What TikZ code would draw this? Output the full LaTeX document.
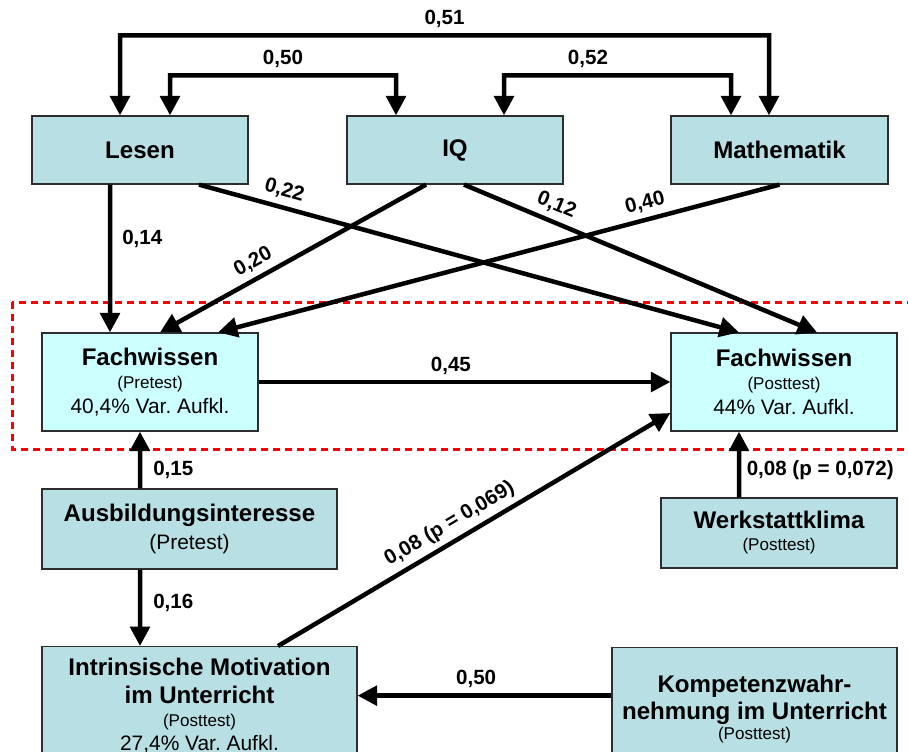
\documentclass[tikz,border=0pt]{standalone}
\usepackage{fontspec}
\setmainfont{Liberation Sans}
\usepackage{tikz}
\usetikzlibrary{arrows.meta}
\frenchspacing

\definecolor{boxteal}{RGB}{184,223,227}
\definecolor{boxcyan}{RGB}{204,255,255}
\definecolor{boxline}{RGB}{45,45,45}

\newcommand{\boxtxt}{\fontsize{11.9pt}{13pt}\selectfont\lineskiplimit=-30pt\relax}
\newcommand{\hd}{\fontsize{13.7pt}{13pt}\selectfont\bfseries}
\newcommand{\smalltxt}{\fontsize{9.7pt}{13pt}\selectfont}
\newcommand{\coeftxt}{\fontsize{11.7pt}{13pt}\selectfont\bfseries}

\begin{document}
\begin{tikzpicture}[>={Triangle[length=3.9mm,width=3.9mm]}, x=0.2mm, y=-0.2mm]
			\tikzstyle{box} = [draw=boxline, line width=0.25mm, fill=boxteal, align=center, inner sep=0pt, font=\boxtxt]
			\tikzstyle{fwbox} = [box, fill=boxcyan]
			\tikzstyle{coef} = [font=\coeftxt, inner sep=1.1mm]
			\useasboundingbox (0,0) rectangle (908,751);
			\draw[red, line width=0.6mm, dash pattern=on 1.4mm off 1mm] (12,302) rectangle (922,449);
			\begin{scope}
			\path[->, line width=0.9mm]

			node[box, minimum width=43.2mm, minimum height=13.6mm] (lesen) at (140,150) {\hd Lesen}
			node[box, minimum width=43.2mm, minimum height=13.6mm] (iq) at (455,150) {\hd IQ}
			node[box, minimum width=43.4mm, minimum height=13.6mm] (math) at (779.5,150) {\hd Mathematik}
			node[fwbox, minimum width=43.2mm, minimum height=19.6mm] (fpre) at (150,382)
				{{\hd Fachwissen}\\[0.3pt]{\smalltxt (Pretest)}\\[1.4pt]40,4\% Var. Aufkl.}
			node[fwbox, minimum width=45.2mm, minimum height=19.6mm] (fpost) at (784,382)
				{{\hd Fachwissen}\\[0.3pt]{\smalltxt (Posttest)}\\[1.4pt]44\% Var. Aufkl.}
			node[box, minimum width=59mm, minimum height=16mm] (ausb) at (189.5,529)
				{{\hd Ausbildungsinteresse}\\[2.7pt](Pretest)}
			node[box, minimum width=47.2mm, minimum height=14mm] (werk) at (779,533)
				{{\hd Werkstattklima}\\[-0.5pt]{\smalltxt (Posttest)}}
			node[box, anchor=north, minimum width=63mm, minimum height=23.6mm] (intr) at (199.5,646)
				{{\hd Intrinsische Motivation}\\[3.1pt]{\hd im Unterricht}\\[-0.1pt]{\smalltxt (Posttest)}\\[0.7pt]27,4\% Var. Aufkl.}
			node[box, anchor=north, minimum width=57mm, minimum height=24.6mm] (komp) at (754.5,647)
				{{\hd Kompetenzwahr-}\\[2.4pt]{\hd nehmung im Unterricht}\\[-1.8pt]{\smalltxt (Posttest)}}

			([xshift=-6mm]lesen.south) edge node[coef, right=0.9mm, pos=0.365] {0,14} ([xshift=-8mm]fpre.north)
			([xshift=11.8mm]lesen.south) edge node[coef, sloped, above, pos=0.15] {0,22} ([xshift=-9mm]fpost.north)
			([xshift=-5.8mm]iq.south) edge node[coef, sloped, above, pos=0.62] {0,20} ([xshift=2mm]fpre.north)
			([xshift=1.8mm]iq.south) edge node[coef, sloped, above, pos=0.244] {0,12} ([xshift=6.6mm]fpost.north)
			(math.south) edge node[coef, sloped, above, pos=0.232] {0,40} ([xshift=13.6mm]fpre.north)
			(fpre.east) edge node[coef, above, pos=0.467] {0,45} (fpost.west)
			([xshift=-9.9mm]ausb.north) edge node[coef, right=1.1mm, pos=0.33] {0,15} ([xshift=-2mm]fpre.south)
			([xshift=-9.9mm]ausb.south) edge node[coef, right=1.1mm, pos=0.436] {0,16} ([xshift=-11.9mm]intr.north)
			([xshift=15.7mm]intr.north) edge node[coef, sloped, above, pos=0.46] {0,08 (p = 0,069)} ([yshift=-6.2mm]fpost.west)
			([xshift=-8mm]werk.north) edge node[coef, right, pos=0.41] {0,08 (p = 0,072)} ([xshift=-9mm]fpost.south)
			([yshift=2.7mm]komp.west) edge node[coef, above, pos=0.533] {0,50} ([yshift=2mm]intr.east)
			;

			\draw[<->, line width=0.9mm] ([xshift=-4mm]lesen.north) -- ++(0,-80)
				-- node[coef, above] {0,51} ++(649,0) -- ([xshift=-2.1mm]math.north);
			\draw[<->, line width=0.9mm] ([xshift=6mm]lesen.north) -- ++(0,-40)
				-- node[coef, above] {0,50} ++(226,0) -- ([xshift=-11.8mm]iq.north);
			\draw[<->, line width=0.9mm] ([xshift=9.8mm]iq.north) -- ++(0,-40)
				-- node[coef, above, pos=0.37] {0,52} ++(227,0) -- ([xshift=-9.7mm]math.north);
			\end{scope}

\end{tikzpicture}
\end{document}
